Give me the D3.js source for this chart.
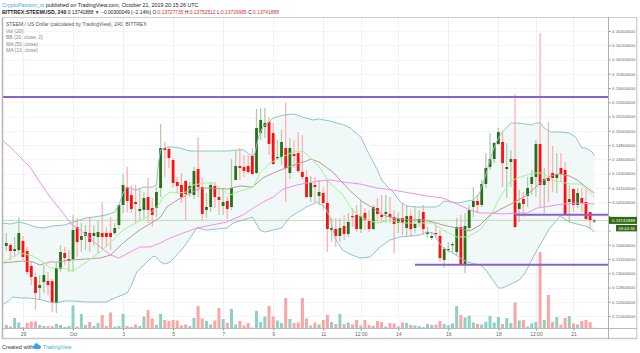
<!DOCTYPE html>
<html>
<head>
<meta charset="utf-8">
<script src="https://cdnjs.cloudflare.com/ajax/libs/d3/7.8.5/d3.min.js"></script>
<style>
body { margin: 0; background: #fff; }
svg { display: block; font-family: "Liberation Sans", Arial, sans-serif; }
</style>
</head>
<body>
<div id="canvas"></div>
<script>
// ----------------------------------------------------------
// DATA -----------------------------------------------------
// ----------------------------------------------------------
// all prices in thousandths of a dollar
var opens = [
133.82,133.96,133.12,133.26,134.53,133.12,131.02,129.47,127.93,128.77,
128.91,128.91,125.83,130.60,132.84,131.72,132.00,136.49,134.67,135.23,
135.65,135.23,135.09,135.65,135.65,135.65,135.65,136.77,139.58,142.10,
140.98,140.00,138.74,138.88,140.70,139.16,139.16,141.96,147.58,147.44,
145.89,142.81,142.39,142.95,141.26,140.98,144.63,142.10,138.88,139.30,
142.25,140.70,139.44,140.14,139.30,143.09,145.05,144.91,145.05,146.46,
144.07,149.68,150.53,151.23,149.68,146.17,146.32,147.58,144.07,146.74,
146.88,144.21,143.51,140.70,142.39,140.84,141.26,139.86,136.07,136.21,
135.23,136.63,135.51,138.03,138.18,136.21,138.46,137.33,136.21,139.16,
138.18,138.32,138.32,137.89,137.05,137.75,136.35,138.03,136.35,137.05,
138.60,135.51,134.95,135.65,135.23,131.86,133.26,133.96,132.98,136.49,
131.30,136.35,139.30,140.14,139.58,142.53,144.91,146.03,148.14,148.42,
144.63,145.61,146.03,139.02,140.42,140.84,142.53,143.51,148.14,142.39,
143.37,144.07,143.37,144.77,144.49,140.00,141.82,139.58,140.56,140.00,138.60,137.28
];
var highs = [
135.65,134.25,135.09,137.89,135.23,133.68,131.58,130.03,129.75,131.16,
130.17,129.19,131.44,133.96,133.68,133.26,138.18,137.75,137.05,136.77,
137.89,136.77,137.47,140.00,136.49,137.89,137.05,139.58,143.93,144.91,
142.39,142.39,141.96,141.40,143.37,140.56,142.10,150.95,148.42,147.72,
146.17,143.51,144.07,143.09,142.81,144.91,149.12,143.37,141.26,142.81,
142.81,141.96,141.96,140.84,146.03,147.16,147.58,146.60,146.60,147.58,
153.05,153.19,153.19,151.93,151.09,148.70,150.10,153.89,148.98,148.70,
149.82,149.40,144.49,143.65,143.51,143.09,142.10,143.09,137.75,137.75,
137.75,138.18,138.46,139.16,139.58,140.28,139.16,138.88,139.58,140.56,
140.98,140.98,140.70,138.88,138.60,139.86,139.58,138.88,139.44,138.88,
139.58,136.49,135.79,136.77,136.07,133.68,134.39,134.39,137.75,138.18,
138.46,139.58,142.10,140.98,143.09,146.88,149.68,148.42,150.39,149.82,
148.28,147.30,155.16,141.68,141.40,143.51,144.49,148.70,163.72,144.77,
151.23,147.86,146.88,146.88,145.61,142.39,141.96,141.96,141.96,141.96,138.60,137.61
];
var lows = [
133.12,131.86,132.28,132.84,131.86,129.75,128.35,124.84,126.25,127.23,
126.95,124.56,124.42,130.17,131.16,130.17,130.17,132.28,132.98,133.26,
132.98,133.82,132.84,133.40,133.68,133.26,135.37,136.21,138.46,138.60,
138.46,137.05,137.47,137.75,137.05,136.49,137.89,140.70,143.51,144.77,
141.96,141.26,139.86,137.47,140.70,140.42,140.70,137.47,137.75,138.60,
139.16,138.18,138.18,137.61,138.88,143.09,143.09,143.51,143.93,143.79,
143.93,148.70,148.98,146.60,145.19,145.89,145.19,140.00,143.23,144.77,
144.07,143.09,140.56,140.00,140.00,139.58,138.88,132.98,134.39,133.68,
134.39,134.67,135.09,136.49,135.79,135.65,136.07,135.79,136.07,137.19,
137.05,137.05,137.05,132.84,135.65,135.37,135.09,135.09,135.65,136.49,
135.37,134.95,134.67,135.09,131.58,130.74,132.98,132.84,132.56,131.02,
130.03,136.07,137.89,138.46,139.30,141.96,144.49,145.47,148.00,142.10,
140.56,142.10,136.35,137.19,137.89,139.30,140.98,140.70,139.30,138.46,
140.00,141.40,141.26,142.81,138.18,137.19,138.60,139.16,138.60,137.47,136.21,137.05
];
var closes = [
134.25,133.12,133.40,135.65,132.28,130.17,129.47,127.23,128.35,129.75,
128.35,125.83,130.74,132.98,132.14,132.00,136.07,134.39,135.23,135.79,
134.39,135.65,135.79,135.09,135.09,135.09,136.35,139.58,142.39,140.14,
139.02,139.72,139.02,140.56,138.88,138.18,141.40,147.58,147.30,146.17,
142.67,142.25,140.70,141.12,142.25,144.35,142.10,138.32,139.30,142.39,
140.70,140.28,140.00,139.02,141.96,145.05,144.77,144.35,144.21,143.93,
150.39,151.51,151.09,148.14,145.33,146.32,148.42,144.77,147.58,146.46,
144.35,143.51,140.70,142.67,142.10,141.40,139.86,136.21,136.35,135.23,
136.35,135.51,137.19,137.89,136.21,138.03,137.47,136.21,139.30,138.32,
137.89,138.60,137.89,136.91,137.61,137.05,138.03,136.21,136.91,137.61,
136.21,135.79,135.23,135.51,132.14,133.40,133.40,134.10,136.49,131.16,
136.63,138.88,140.14,139.58,142.53,144.77,146.03,148.28,149.82,145.47,
144.91,146.03,136.49,139.86,139.72,141.96,143.51,148.14,142.39,143.23,
142.95,143.37,143.93,143.93,138.32,140.42,139.58,141.26,139.86,137.61,137.47,137.42
];
// volume in arbitrary units, one per candle
var volumes = [
3,1.5,10,5.5,1,5,6.5,6.5,3,2,
2,2,4,3,1,2,22.5,1.5,14,3,
6,2,5,13,2,15.5,1.5,2,14,2,
1,3.5,2,11.5,18,9.5,3,14,8,7,
8,7.5,2.5,3.5,2,10,22,9.5,7,3.5,
7.5,20,9,5,19,3.5,7,2.5,5,0.5,
17,6,11.5,22,11.5,7.5,5,30,9,5,
5.5,30,9.5,2.5,5.5,3.5,8,13,6,4,
14,4,5.5,3.5,8,2.5,8,3,2,7,
6,1.5,5,4.5,1.5,5.5,5,3,2.5,2,
1,4,3,3.5,7,4,2.5,4.5,22,13,
10.5,12.5,5.5,4,3.5,6,12,5.5,11,4,
10,5,25.5,7.5,8,1.5,4.5,6,76,8,
33,6,11,3.5,10,12,4.5,3.5,7,8,6,0.3
];

// indicator lines, pairs of [candle index, price]
var upperBand = [
[-1,137.05],[1,136.91],[3,137.19],[5,136.91],[7,136.49],[9,136.35],[11,136.63],[14,136.77],[16,137.19],[17,137.33],
[19,137.75],[21,137.89],[24,138.18],[26,138.60],[27,139.58],[28,141.26],[29,142.10],[31,141.68],[33,142.10],[35,142.10],
[36,142.39],[36.5,145.61],[37,147.30],[38.5,147.72],[40,147.72],[41.5,147.58],[44,147.16],[46.5,147.16],[49,147.16],[51,147.16],
[53.5,147.16],[55,147.30],[57,147.30],[58.5,146.60],[59.5,146.60],[60.5,149.12],[61.5,150.53],[63,151.23],[64,151.79],[66.5,152.21],
[69,152.35],[71,151.93],[73.5,151.51],[75,151.65],[77.5,151.37],[81,150.81],[82.5,150.39],[83,150.10],[85,149.12],[86.5,147.30],
[87.5,146.17],[89,144.49],[90,143.09],[91.5,142.10],[93,141.26],[94.5,140.00],[96,139.44],[98.5,139.30],[100.5,139.30],[103,139.30],
[104,139.58],[105,140.14],[106.5,140.00],[108.5,139.86],[110.5,140.14],[112,140.28],[113.5,141.26],[115,143.79],[116,145.89],[117,147.72],
[118,148.98],[119,149.82],[121,151.09],[122.5,151.09],[124.5,150.95],[126,150.81],[127,151.09],[128,151.09],[129,150.39],[130.5,149.82],
[133,149.82],[135,149.68],[136.5,149.12],[138,147.58],[139,147.58],[140.5,147.02],[141,146.46]
];
var lowerBand = [
[-1,125.54],[0.5,126.10],[1.5,126.67],[3.3,126.53],[5,126.53],[7.4,126.39],[10.5,125.96],[12,125.83],[14,126.10],[16,126.10],
[19.3,125.96],[24,125.96],[26,126.53],[29,127.23],[30,128.35],[31.3,130.17],[33.7,131.58],[35,132.28],[35.7,132.42],[37,131.58],
[38,131.30],[39.3,131.58],[42.4,133.54],[45.7,136.35],[48,136.07],[53,136.35],[54.4,137.05],[56.8,137.47],[59,137.89],[60.8,136.07],
[62,135.79],[66,136.35],[68,137.89],[72,139.30],[73,139.58],[74.5,140.00],[76.4,139.30],[77.6,137.89],[78.8,134.95],[80.6,133.26],
[82.9,132.56],[84.8,132.14],[87.2,132.28],[89.6,133.68],[92,134.67],[94.4,135.09],[96.8,135.23],[99.2,135.37],[101,135.79],[102.3,135.65],
[104.5,133.68],[107,132.84],[110.5,131.58],[113.6,131.16],[115,130.46],[118,127.93],[119,127.93],[123,129.05],[124.4,130.03],[126,131.86],
[127.5,133.54],[128.7,134.67],[130,136.07],[132.8,138.03],[133.5,137.75],[135,137.19],[136.8,136.91],[138.8,136.63],[140,136.35],[141,135.79]
];
var ma50 = [
[-1,148.70],[1,147.72],[3.3,146.32],[5.7,144.91],[8,142.81],[10.5,140.70],[13,138.88],[15.8,136.77],[17.7,136.07],[20,134.95],
[22.5,133.68],[25,132.56],[27,132.14],[29.7,132.98],[32,133.68],[34.5,133.68],[36.9,134.25],[39.3,134.95],[42.4,135.65],[45.7,136.35],
[49.3,136.77],[52.9,137.19],[54.4,137.61],[56.8,138.18],[59.2,139.16],[61.6,140.00],[64,140.70],[66.4,141.82],[69.7,142.39],[72.1,142.67],
[75.2,142.95],[77.6,143.09],[80.7,142.81],[84.8,142.53],[88.9,141.96],[92.7,141.68],[96.8,141.26],[100.9,140.84],[104.7,140.56],[108,139.72],
[111.2,138.88],[113.6,138.46],[116,138.46],[119.1,138.32],[122.5,138.46],[124.9,138.46],[127.3,139.16],[130.4,139.44],[133.5,139.72],[136.9,139.86],[141,139.72]
];
var ma20 = [
[-1,131.44],[1.6,131.58],[4,131.72],[6.4,131.58],[8,131.16],[10.5,131.58],[12.4,131.58],[15.3,131.86],[19.3,132.00],[22.5,132.14],
[25,132.56],[28,134.25],[30.4,135.37],[32,136.07],[34,136.77],[37,137.89],[38.5,139.30],[41,140.28],[43.3,140.98],[46.5,141.96],
[49,141.96],[53,141.82],[56,142.25],[59,142.10],[61.5,143.37],[64,144.07],[66.4,144.63],[69.7,145.33],[72,145.75],[73,146.03],
[75,145.61],[78.3,144.21],[80.7,142.67],[83,141.26],[85.5,140.00],[88,139.16],[90.3,138.18],[92.7,137.75],[96.8,137.47],[100,137.47],
[102.3,137.19],[104.7,136.77],[108,136.35],[111.2,135.93],[113.6,136.77],[116,138.18],[119.1,139.16],[121.5,139.86],[124.9,140.98],[128,142.67],
[130.4,143.65],[132.8,143.93],[135,143.65],[136.9,143.09],[139.3,141.96],[141,141.26]
];
var ma13 = [
[-1,131.44],[3.3,132.84],[6.4,132.42],[8.8,131.58],[10.5,130.74],[11.7,130.74],[13.6,130.74],[16,130.31],[19.3,131.58],[22.5,132.98],
[25.6,134.67],[28,136.07],[33.7,137.89],[36.9,139.86],[37.6,140.70],[39.3,141.40],[41.2,141.26],[43.3,141.40],[44.8,142.39],[47.6,142.67],
[49.6,142.67],[51.2,141.96],[53.6,140.98],[56,141.54],[59.2,142.10],[60.8,144.07],[63.2,145.47],[65.6,146.17],[68.8,147.02],[71.1,147.16],
[73.5,145.89],[75.2,144.77],[77.6,142.67],[80.7,140.98],[83,138.88],[85.5,137.75],[88.9,137.05],[92,137.47],[95.1,137.05],[98.5,137.05],
[102.3,137.05],[104.7,136.07],[108,135.09],[110.5,135.09],[113.6,136.07],[116,137.89],[118.4,140.70],[120.8,142.81],[122.5,143.37],[126.3,144.07],
[128.7,144.07],[130.9,143.09],[135.2,142.53],[137.6,142.53],[139.3,141.68],[141,140.70]
];

var priceTicks = [164,162,160,158,156,154,152,150,148,146,144,142,140,138,136,134,132,130,128,126,124];
// 0.138 and 0.136 are covered by the price boxes in the reference
var priceLabels = ["0.16400000","0.16200000","0.16000000","0.15800000","0.15600000","0.15400000","0.15200000","0.15000000","0.14800000","0.14600000","0.14400000","0.14200000","0.14000000","","","0.13400000","0.13200000","0.13000000","0.12800000","0.12600000","0.12400000"];
var timeTicks = [4,16,28,40,52,64,76,85,94,106,118,127,136];
var timeLabels = ["29","Oct","3","5","7","9","11","12:00","14","16","18","12:00","21"];
var legendLines = ["STEEM / US Dollar (calculated by TradingView), 240, BITTREX","Vol (20)","BB (20, close, 2)","MA (50, close)","MA (13, close)"];

// drawn support and resistance lines: [first candle index, price]
var drawnLevels = [[-1,154.75],[98,131.20],[122,138.20]];
var lastPrice = 137.41888;




// ----------------------------------------------------------
// STRUCTURE ------------------------------------------------
// ----------------------------------------------------------
var svg = d3.select("#canvas").append("svg")
.attr("width", 640)
.attr("height", 353);

svg.append("clipPath").attr("id", "plot_clip")
.append("rect")
.attr("x", 3).attr("y", 18).attr("width", 605).attr("height", 310);

// ----------------------------------------------------------
// SCALES ---------------------------------------------------
// ----------------------------------------------------------
var xScale = d3.scaleLinear().domain([0, 141]).range([6.3, 594.3]);
var yScale = d3.scaleLinear().domain([124, 164]).range([316, 31]);
var volScale = d3.scaleLinear().domain([0, 80]).range([328, 248]);

var plot = svg.append("g").attr("clip-path", "url(#plot_clip)");

// ----------------------------------------------------------
// GFX ------------------------------------------------------
// ----------------------------------------------------------
// grid
plot.selectAll(".grid_h").data(priceTicks).enter().append("line")
.attr("x1", 3).attr("x2", 608)
.attr("y1", function(d) { return Math.round(yScale(d)) + 0.5; })
.attr("y2", function(d) { return Math.round(yScale(d)) + 0.5; })
.style("stroke", "#f2f5f9");
plot.selectAll(".grid_v").data(timeTicks).enter().append("line")
.attr("y1", 18).attr("y2", 328)
.attr("x1", function(d) { return Math.round(xScale(d)) + 0.5; })
.attr("x2", function(d) { return Math.round(xScale(d)) + 0.5; })
.style("stroke", "#eef2f7");

// bollinger fill
var line = d3.line()
.x(function(d) { return xScale(d[0]); })
.y(function(d) { return yScale(d[1]); });

plot.append("path")
.attr("d", line(upperBand.concat(lowerBand.slice().reverse())) + "Z")
.style("fill", "#f1f8f8");

// volume
plot.selectAll(".vol").data(volumes).enter().append("rect")
.attr("x", function(d, i) { return xScale(i) - 1.5; })
.attr("y", function(d) { return volScale(d); })
.attr("width", 3)
.attr("height", function(d) { return volScale(0) - volScale(d); })
.style("fill", function(d, i) { return closes[i] >= opens[i] ? "#8dd0c6" : "#f9a6a4"; });

// last price line
plot.append("line")
.attr("x1", 3).attr("x2", 608)
.attr("y1", yScale(lastPrice)).attr("y2", yScale(lastPrice))
.style("stroke", "#c3d9b6");

// candles
plot.selectAll(".wick").data(highs).enter().append("line")
.attr("x1", function(d, i) { return xScale(i); })
.attr("x2", function(d, i) { return xScale(i); })
.attr("y1", function(d) { return yScale(d); })
.attr("y2", function(d, i) { return yScale(lows[i]); })
.style("stroke-width", 1.3)
.style("stroke", function(d, i) { return closes[i] >= opens[i] ? "#b4cca9" : "#ffb0b0"; });

plot.selectAll(".body").data(opens).enter().append("rect")
.attr("x", function(d, i) { return xScale(i) - 1.4; })
.attr("y", function(d, i) { return yScale(Math.max(d, closes[i])); })
.attr("width", 2.8)
.attr("height", function(d, i) { return Math.max(1.2, Math.abs(yScale(d) - yScale(closes[i]))); })
.style("fill", function(d, i) { return closes[i] >= opens[i] ? "#2b6e17" : "#ff1010"; });

// indicator lines
var indicators = [
{ values: upperBand, color: "#8fc4c8" },
{ values: lowerBand, color: "#8fc4c8" },
{ values: ma50, color: "#fb8cf0" },
{ values: ma20, color: "#b89a94" },
{ values: ma13, color: "#9ef59a" }
];
indicators.forEach(function(s) {
plot.append("path")
.attr("d", line(s.values))
.style("fill", "none")
.style("stroke", s.color)
.style("stroke-width", 1);
});

// drawn levels
plot.selectAll(".level").data(drawnLevels).enter().append("line")
.attr("x1", function(d) { return xScale(d[0]); })
.attr("x2", 608)
.attr("y1", function(d) { return yScale(d[1]); })
.attr("y2", function(d) { return yScale(d[1]); })
.style("stroke", "#8a62c9")
.style("stroke-width", 2);

// AXIS  -------------------------------------------------
var yAxis = d3.axisRight(yScale)
.tickValues(priceTicks)
.tickSize(2)
.tickPadding(1.5)
.tickFormat(function(d, i) { return priceLabels[i]; });
svg.append("g")
.attr("transform", "translate(608.5,0)")
.call(yAxis)
.call(function(g) {
g.select(".domain").remove();
g.selectAll(".tick line").style("stroke", "#888");
g.selectAll(".tick text").style("font-size", "4.4px").style("font-family", "inherit").style("fill", "#666");
});

var xAxis = d3.axisBottom(xScale)
.tickValues(timeTicks)
.tickSize(2)
.tickPadding(1.5)
.tickFormat(function(d, i) { return timeLabels[i]; });
svg.append("g")
.attr("transform", "translate(0,328.5)")
.call(xAxis)
.call(function(g) {
g.select(".domain").remove();
g.selectAll(".tick line").style("stroke", "#888");
g.selectAll(".tick text").style("font-size", "5px").style("font-family", "inherit").style("fill", "#666");
});

// frame
var frame = [
{ x1: 2.5, y1: 17, x2: 2.5, y2: 339, c: "#b5b5b5", w: 1.5 },
{ x1: 2, y1: 17.5, x2: 637, y2: 17.5, c: "#cfcfcf", w: 1 },
{ x1: 2, y1: 338.5, x2: 637, y2: 338.5, c: "#c8c8c8", w: 1.5 },
{ x1: 636.8, y1: 17, x2: 636.8, y2: 339, c: "#c0c0c0", w: 1 },
{ x1: 608.5, y1: 17, x2: 608.5, y2: 339, c: "#b0b0b0", w: 1 },
{ x1: 3, y1: 328.5, x2: 637, y2: 328.5, c: "#a8a8a8", w: 0.8 }
];
svg.selectAll(".frame").data(frame).enter().append("line")
.attr("x1", function(d) { return d.x1; }).attr("y1", function(d) { return d.y1; })
.attr("x2", function(d) { return d.x2; }).attr("y2", function(d) { return d.y2; })
.style("stroke", function(d) { return d.c; })
.style("stroke-width", function(d) { return d.w; });

// price labels
var priceBox = svg.append("g");
priceBox.append("rect")
.attr("x", 609).attr("y", yScale(lastPrice) - 3.5).attr("width", 28).attr("height", 7)
.style("fill", "#2f6b12");
priceBox.append("text")
.attr("x", 612).attr("y", yScale(lastPrice) + 1.6)
.style("font-size", "4.4px").style("fill", "#fff")
.text("0.13741888");
priceBox.append("rect")
.attr("x", 616).attr("y", yScale(lastPrice) + 4.6).attr("width", 21).attr("height", 6.4)
.style("fill", "#2f6b12");
priceBox.append("text")
.attr("x", 618.5).attr("y", yScale(lastPrice) + 9.4)
.style("font-size", "4.2px").style("fill", "#fff")
.text("03:44:36");

// ----------------------------------------------------------
// TEXT -----------------------------------------------------
// ----------------------------------------------------------
var head_1 = svg.append("text").attr("x", 2).attr("y", 7).style("font-size", "5.4px").style("fill", "#222");
head_1.append("tspan").style("fill", "#35a9e6").text("CryptoPassion_io");
head_1.append("tspan").text(" published on TradingView.com, October 21, 2019 20:15:26 UTC");

var head_2 = svg.append("text").attr("x", 2).attr("y", 13.5).style("font-size", "4.9px").style("fill", "#222");
head_2.append("tspan").style("font-weight", "bold").style("font-size", "5.2px").text("BITTREX:STEEMUSD, 240");
head_2.append("tspan").text("  0.13741888 ");
head_2.append("tspan").style("fill", "#b01818").text("▼");
head_2.append("tspan").text(" −0.00300049 (−2.14%) O:");
head_2.append("tspan").style("fill", "#e03030").text("0.13727735");
head_2.append("tspan").text(" H:");
head_2.append("tspan").style("fill", "#e03030").text("0.13752512");
head_2.append("tspan").text(" L:");
head_2.append("tspan").style("fill", "#e03030").text("0.13726965");
head_2.append("tspan").text(" C:");
head_2.append("tspan").style("fill", "#e03030").text("0.13741888");

svg.selectAll(".legend").data(legendLines).enter().append("text")
.attr("x", 6)
.attr("y", function(d, i) { return 26 + i * 6.6; })
.style("font-size", "5px")
.style("fill", function(d, i) { return i == 0 ? "#555" : "#888"; })
.text(function(d) { return d; });

// footer
svg.append("text").attr("x", 2).attr("y", 348.5)
.style("font-size", "5.6px").style("fill", "#333")
.text("Created with");
var logo = svg.append("g").style("fill", "#3ba6e0");
logo.append("ellipse").attr("cx", 37).attr("cy", 347).attr("rx", 4).attr("ry", 2.2);
logo.append("circle").attr("cx", 36.5).attr("cy", 345.5).attr("r", 2.2);
svg.append("text").attr("x", 43).attr("y", 348.5)
.style("font-size", "5.2px").style("fill", "#4aa8dd")
.text("TradingView");
</script>
</body>
</html>
